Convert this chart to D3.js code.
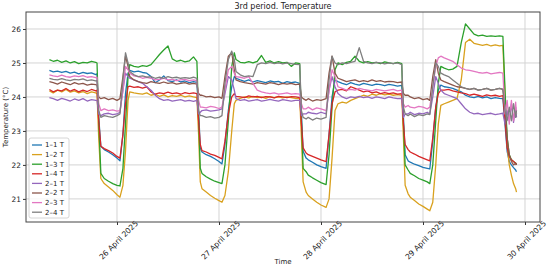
<!DOCTYPE html>
<html>
<head>
<meta charset="utf-8">
<script src="https://cdn.jsdelivr.net/npm/d3@7"></script>
<style>
  body { margin: 0; background: #fff; }
  svg text { font-family: "DejaVu Sans", sans-serif; fill: #222; }
</style>
</head>
<body>
<div id="chart"></div>
<script>
// hours since 25 April 2025 00:00
var hours = [
  8.1, 9, 10, 11, 12, 13, 14, 15, 16, 17, 18, 19, 19.3,
  19.7, 20.2, 21, 22, 23, 24, 24.7,
  25.4, 26.0, 26.6,
  27, 28, 29, 30, 31, 32, 33, 34, 35, 36, 37, 38, 39, 40, 41, 42, 42.8,
  43.2, 43.6,
  44, 45, 46, 47, 48, 48.7,
  49.4, 50.2, 51.0, 51.6,
  52, 53, 54, 55, 56, 57, 58, 59, 60, 61, 62, 63, 64, 65, 66, 67.0,
  67.4, 67.8,
  68.5, 69, 70, 71, 72, 73.2,
  73.9, 74.6, 75.3,
  76, 77, 78, 79, 80, 81, 82, 83, 84, 85, 86, 87, 88, 89, 90, 91.0,
  91.4, 91.8,
  92.5, 93, 94, 95, 96, 97, 97.6,
  98.3, 99.0, 99.6, 100.2,
  101, 102, 103, 104, 105, 106, 107, 108, 109, 110, 111, 112, 113, 114, 114.8,
  115.3, 115.8,
  116.3, 116.8, 117.3, 117.8, 118.0
];

var t11 = [
  24.78, 24.74, 24.76, 24.72, 24.75, 24.7, 24.73, 24.68, 24.72, 24.69, 24.71, 24.66, 24.68,
  23.4, 22.55, 22.45, 22.38, 22.3, 22.2, 22.12,
  22.9, 24.1, 24.7,
  24.78, 24.74, 24.76, 24.72, 24.7, 24.6, 24.42, 24.5, 24.62, 24.48, 24.45, 24.5, 24.44, 24.47, 24.42, 24.45, 24.43,
  23.6, 22.5,
  22.38, 22.3, 22.25, 22.18, 22.1, 22.03,
  22.6, 23.6, 24.3, 24.6,
  24.55, 24.5, 24.46, 24.5, 24.44, 24.48, 24.45, 24.42, 24.47, 24.44, 24.46, 24.4, 24.45, 24.42, 24.44, 24.4,
  23.5, 22.4,
  22.2, 22.15, 22.08, 22.0, 21.95, 21.9,
  22.9, 24.0, 24.5,
  24.45, 24.4, 24.36, 24.42, 24.38, 24.35, 24.4, 24.37, 24.34, 24.38, 24.36, 24.33, 24.37, 24.35, 24.32, 24.34,
  23.4, 22.3,
  22.12, 22.08, 22.02, 21.98, 21.93, 21.9, 21.88,
  22.7, 23.7, 24.2, 24.35,
  24.3, 24.28, 24.25, 24.2, 24.15, 24.05, 24.0, 23.98, 24.02, 23.97, 24.0, 23.95, 23.98, 23.96, 23.95,
  23.2, 22.4,
  22.1, 22.0, 21.92, 21.85, 21.8
];

var t12 = [
  24.18, 24.12, 24.2, 24.15, 24.22, 24.14, 24.18, 24.12, 24.16, 24.1, 24.15, 24.12, 24.1,
  22.8, 21.6, 21.45, 21.35, 21.25, 21.12, 21.05,
  21.4, 22.4, 23.9,
  24.15, 24.12, 24.1, 24.08, 24.12, 24.05, 24.08, 24.02, 24.06, 24.0, 24.04, 24.02, 24.05, 24.0, 24.03, 24.0, 23.98,
  22.9, 21.5,
  21.3, 21.2, 21.1, 21.02, 20.95, 20.9,
  21.1, 21.8, 23.0, 23.8,
  23.9, 23.96, 24.0, 23.97, 24.02, 23.98, 24.0, 23.96, 24.01, 23.98, 24.0, 23.97, 24.0, 23.98, 23.96, 23.95,
  22.8, 21.5,
  21.2, 21.1, 21.0, 20.9, 20.82, 20.75,
  21.0, 22.2, 23.6,
  23.8, 23.85, 23.82, 23.9, 23.95, 24.0, 24.05, 24.02, 24.08, 24.05, 24.1, 24.06, 24.08, 24.05, 24.07, 24.05,
  22.8, 21.4,
  21.15, 21.05, 20.95, 20.85, 20.78, 20.7, 20.65,
  20.9, 22.0, 23.2, 23.75,
  23.8, 23.85, 23.9, 23.95, 24.5, 25.6, 25.7, 25.58, 25.55, 25.52, 25.55, 25.5, 25.53, 25.5, 25.52,
  24.0, 22.6,
  22.0, 21.7, 21.45, 21.3, 21.2
];

var t13 = [
  25.1, 25.05, 25.08, 25.02, 25.06, 25.0, 25.04, 24.98, 25.02, 25.0, 25.05, 25.02, 25.0,
  23.3, 21.75, 21.6, 21.52, 21.45, 21.4, 21.38,
  21.9, 23.2, 24.6,
  24.95, 24.9, 24.88, 24.92, 24.9, 24.95, 25.1, 25.25, 25.38, 25.5, 25.12, 25.05, 25.08, 25.03, 25.06, 25.18, 25.05,
  23.4, 21.9,
  21.75, 21.65, 21.58, 21.52, 21.48, 21.45,
  22.0, 23.3, 24.9, 25.3,
  25.1, 25.02, 25.0, 25.04, 25.0, 25.05, 25.22, 25.02, 25.06, 25.0, 25.04, 25.0, 25.02, 24.9, 25.0, 24.98,
  23.3, 21.9,
  21.8, 21.7, 21.62, 21.55, 21.48, 21.42,
  22.3, 23.7, 24.8,
  25.0, 24.95, 25.02, 25.05, 25.2, 25.05, 25.0, 25.04, 25.0, 25.02, 24.98, 25.03, 25.0, 24.98, 25.02, 24.98,
  23.2, 22.0,
  21.85, 21.75, 21.68, 21.6, 21.55, 21.5, 21.45,
  22.0, 23.3, 24.4, 24.9,
  24.85, 24.8, 24.82, 24.9, 25.6, 26.15, 26.0, 25.85, 25.8, 25.82, 25.78, 25.8, 25.78, 25.8, 25.78,
  24.2, 22.8,
  22.3, 22.15, 22.1, 22.05, 22.02
];

var t14 = [
  24.22, 24.15, 24.2, 24.18, 24.25, 24.17, 24.22, 24.15, 24.2, 24.16, 24.22, 24.18, 24.2,
  23.3, 22.55, 22.48, 22.42, 22.35, 22.25, 22.2,
  22.9, 23.8, 24.3,
  24.32, 24.28, 24.3, 24.26, 24.3, 24.15, 24.08, 24.12, 24.1, 24.14, 24.1, 24.12, 24.08, 24.13, 24.1, 24.12, 24.1,
  23.3, 22.6,
  22.42, 22.38, 22.32, 22.28, 22.22, 22.18,
  22.7, 23.5, 24.0, 24.1,
  24.02, 24.0, 23.98, 24.03, 24.0, 24.02, 23.98, 24.01, 24.0, 23.97, 24.02, 24.0, 23.98, 24.01, 24.0, 23.98,
  23.2, 22.5,
  22.35, 22.3, 22.25, 22.2, 22.15, 22.1,
  22.9, 23.8, 24.15,
  24.2, 24.22, 24.18, 24.3, 24.25, 24.2, 24.15, 24.18, 24.12, 24.15, 24.1, 24.13, 24.1, 24.12, 24.08, 24.1,
  23.2, 22.6,
  22.45, 22.38, 22.32, 22.25, 22.2, 22.15, 22.12,
  22.8, 23.7, 24.1, 24.2,
  24.2, 24.22, 24.18, 24.15, 24.12, 24.1, 24.05, 24.08, 24.05, 24.02, 24.06, 24.03, 24.05, 24.02, 24.04,
  23.3, 22.5,
  22.25, 22.15, 22.1, 22.05, 22.0
];

var t21 = [
  23.98, 23.95, 23.9, 23.96, 23.92, 23.88, 23.94, 23.9, 23.95, 23.88, 23.92, 23.9, 23.9,
  23.5, 23.45, 23.5, 23.52, 23.48, 23.5, 23.55,
  24.2, 24.7, 24.6,
  24.55, 24.5, 24.45, 24.4, 24.3, 24.2, 24.05, 23.95, 23.9, 23.92, 23.88, 23.9, 23.92, 23.88, 23.9, 23.87, 23.9,
  23.5, 23.55,
  23.6, 23.62, 23.58, 23.6, 23.62, 23.65,
  24.1, 24.6, 24.5, 24.2,
  23.95, 23.9, 23.92, 23.88, 23.9, 23.92, 23.88, 23.9, 23.93, 23.9, 23.88, 23.92, 23.9, 23.88, 23.9, 23.9,
  23.45, 23.5,
  23.5, 23.55, 23.52, 23.5, 23.55, 23.5,
  24.2, 24.6, 24.3,
  24.1, 24.0, 23.95, 24.0, 23.98, 24.02, 23.98, 24.0, 23.96, 24.0, 23.98, 23.95, 24.0, 23.97, 23.95, 23.96,
  23.4, 23.5,
  23.5, 23.55, 23.48, 23.52, 23.5, 23.55, 23.5,
  24.0, 24.6, 24.4, 24.2,
  24.1, 24.05, 24.0, 23.95, 23.8, 23.65, 23.55, 23.5, 23.52, 23.48, 23.5, 23.52, 23.48, 23.5, 23.52,
  23.2, 23.6,
  23.3, 23.8, 23.25, 23.7, 23.4
];

var t22 = [
  24.45, 24.42, 24.38, 24.44, 24.4, 24.36, 24.42, 24.38, 24.4, 24.35, 24.38, 24.36, 24.35,
  24.0, 23.95, 23.98, 23.92, 23.96, 23.9, 23.95,
  24.6, 25.2, 24.9,
  24.6, 24.5, 24.45, 24.42, 24.4, 24.45, 24.42, 24.4, 24.44, 24.4, 24.42, 24.38, 24.4, 24.42, 24.38, 24.4, 24.38,
  24.1, 24.05,
  24.05, 24.0, 24.02, 23.98, 24.0, 23.96,
  24.6, 25.2, 25.3, 24.8,
  24.5, 24.45, 24.42, 24.4, 24.38, 24.42, 24.4, 24.38, 24.42, 24.4, 24.36, 24.4, 24.38, 24.4, 24.36, 24.38,
  24.0, 23.95,
  23.9, 23.95, 23.88, 23.92, 23.9, 23.95,
  24.7, 25.2, 24.7,
  24.55, 24.5, 24.45, 24.48, 24.5, 24.45, 24.48, 24.45, 24.5, 24.46, 24.48, 24.44, 24.46, 24.45, 24.42, 24.44,
  24.1, 24.05,
  24.05, 24.0, 23.95, 23.98, 23.92, 23.95, 23.9,
  24.6, 25.1, 24.7, 24.5,
  24.45, 24.4, 24.35, 24.3, 24.28, 24.25, 24.22, 24.25, 24.2, 24.22, 24.25, 24.2, 24.22, 24.25, 24.22,
  23.7, 22.8,
  22.3, 22.1, 22.0, 22.05, 22.0
];

var t23 = [
  24.65, 24.62, 24.6, 24.64, 24.6, 24.58, 24.62, 24.6, 24.63, 24.58, 24.6, 24.57, 24.58,
  23.8, 23.6, 23.65, 23.6, 23.62, 23.58, 23.6,
  24.2, 24.9, 24.8,
  24.7, 24.62, 24.6, 24.55, 24.58, 24.55, 24.5, 24.52, 24.55, 24.5, 24.52, 24.48, 24.5, 24.52, 24.48, 24.5, 24.48,
  23.9, 23.7,
  23.7, 23.68, 23.72, 23.7, 23.66, 23.7,
  24.2, 24.8, 24.9, 24.7,
  24.6, 24.58, 24.55, 24.6, 24.4, 24.2, 24.15, 24.12, 24.1, 24.12, 24.08, 24.1, 24.12, 24.08, 24.1, 24.08,
  23.8, 23.65,
  23.65, 23.7, 23.62, 23.68, 23.65, 23.6,
  24.2, 24.8, 24.6,
  24.3, 24.25, 24.2, 24.22, 24.2, 24.25, 24.22, 24.2, 24.18, 24.22, 24.2, 24.18, 24.2, 24.22, 24.18, 24.2,
  23.8, 23.7,
  23.75, 23.7, 23.68, 23.72, 23.7, 23.65, 23.7,
  24.3, 24.9, 25.15, 25.2,
  25.15, 25.1, 25.05, 24.95, 24.85, 24.8, 24.78, 24.75, 24.72, 24.7, 24.72, 24.68, 24.7, 24.72, 24.7,
  23.5, 23.9,
  23.2, 23.9, 23.3, 23.85, 23.5
];

var t24 = [
  24.55, 24.52, 24.5, 24.54, 24.5, 24.48, 24.52, 24.5, 24.53, 24.48, 24.5, 24.47, 24.48,
  23.6, 23.4, 23.45, 23.42, 23.4, 23.45, 23.5,
  24.5, 25.3, 25.0,
  24.75, 24.65, 24.6, 24.62, 24.58, 24.6, 24.55, 24.58, 24.55, 24.6, 24.56, 24.58, 24.55, 24.57, 24.55, 24.58, 24.55,
  23.6, 23.45,
  23.45, 23.4, 23.42, 23.38, 23.4, 23.45,
  24.4, 25.1, 25.35, 25.1,
  24.75, 24.65, 24.6, 24.62, 24.6, 24.95, 25.0, 24.98, 25.02, 24.98, 25.0, 24.97, 25.0, 24.98, 24.96, 24.95,
  23.6, 23.4,
  23.35, 23.4, 23.32, 23.38, 23.35, 23.4,
  24.5, 25.2, 25.0,
  24.95, 25.0, 24.98, 25.02, 25.05, 25.45, 25.05, 25.0, 24.98, 25.02, 25.0, 24.97, 25.0, 24.98, 25.0, 24.95,
  23.7, 23.5,
  23.45, 23.5, 23.42, 23.48, 23.45, 23.5, 23.48,
  24.3, 25.0, 24.9, 24.7,
  24.65, 24.6, 24.5, 24.4, 24.3, 24.25, 24.22, 24.25, 24.2, 24.22, 24.25, 24.2, 24.22, 24.25, 24.22,
  23.6, 23.3,
  23.7, 23.3, 23.8, 23.4, 23.6
];

var seriesNames = ["1\u20131 T", "1\u20132 T", "1\u20133 T", "1\u20134 T", "2\u20131 T", "2\u20132 T", "2\u20133 T", "2\u20134 T"];
var seriesValues = [t11, t12, t13, t14, t21, t22, t23, t24];
var colors = ["#1f77b4", "#d9a11e", "#2ca02c", "#d62728", "#9467bd", "#8c564b", "#e377c2", "#7f7f7f"];
var yTicks = [21, 22, 23, 24, 25, 26];
var xTickDays = [26, 27, 28, 29, 30];

function toDate(h) {
  return new Date(Date.UTC(2025, 3, 25) + h * 3600000);
}

var width = 550, height = 268;
var margin = {top: 12, right: 10, bottom: 46, left: 26};

var svg = d3.select("#chart").append("svg")
  .attr("width", width)
  .attr("height", height);

// scales (axes padded like matplotlib's 5% margins)
var x = d3.scaleUtc()
  .domain([toDate(2.59), toDate(123.53)])
  .range([margin.left, width - margin.right]);

var y = d3.scaleLinear()
  .domain([20.32, 26.5])
  .range([height - margin.bottom, margin.top]);

var tickDates = xTickDays.map(function(d) { return new Date(Date.UTC(2025, 3, d)); });

// grid
svg.append("g").selectAll("line.gy")
  .data(yTicks).enter().append("line")
  .attr("x1", margin.left).attr("x2", width - margin.right)
  .attr("y1", function(d) { return y(d); }).attr("y2", function(d) { return y(d); })
  .attr("stroke", "#d4d4d4").attr("stroke-width", 1);

svg.append("g").selectAll("line.gx")
  .data(tickDates).enter().append("line")
  .attr("x1", function(d) { return x(d); }).attr("x2", function(d) { return x(d); })
  .attr("y1", margin.top).attr("y2", height - margin.bottom)
  .attr("stroke", "#d4d4d4").attr("stroke-width", 1);

// lines
var line = d3.line()
  .x(function(d, i) { return x(toDate(hours[i])); })
  .y(function(d) { return y(d); })
  .defined(function(d, i) { return i < hours.length; });

var plot = svg.append("g");
seriesValues.forEach(function(vals, k) {
  plot.append("path")
    .datum(vals)
    .attr("fill", "none")
    .attr("stroke", colors[k])
    .attr("stroke-width", 1.3)
    .attr("stroke-linejoin", "round")
    .attr("d", line);
});

// axes
var xAxis = svg.append("g")
  .attr("transform", "translate(0," + (height - margin.bottom) + ")")
  .call(d3.axisBottom(x).tickValues(tickDates).tickSize(3).tickFormat(d3.utcFormat("%-d April %Y")));
xAxis.select(".domain").remove();
xAxis.selectAll(".tick line").attr("stroke", "#333");
xAxis.selectAll(".tick text")
  .style("font-size", "7.6px")
  .attr("text-anchor", "middle")
  .attr("dy", null)
  .attr("y", 0)
  .attr("transform", "translate(3,20) rotate(-45)");

var yAxis = svg.append("g")
  .attr("transform", "translate(" + margin.left + ",0)")
  .call(d3.axisLeft(y).tickValues(yTicks).tickSize(3).tickFormat(d3.format("d")));
yAxis.select(".domain").remove();
yAxis.selectAll(".tick line").attr("stroke", "#333");
yAxis.selectAll(".tick text").style("font-size", "7.4px").attr("x", -5);

// frame
svg.append("rect")
  .attr("x", margin.left).attr("y", margin.top)
  .attr("width", width - margin.left - margin.right)
  .attr("height", height - margin.top - margin.bottom)
  .attr("fill", "none").attr("stroke", "#444").attr("stroke-width", 1);

// title and labels
svg.append("text")
  .attr("x", (margin.left + width - margin.right) / 2).attr("y", 9)
  .attr("text-anchor", "middle").style("font-size", "8px")
  .text("3rd period. Temperature");

svg.append("text")
  .attr("x", (margin.left + width - margin.right) / 2).attr("y", 264)
  .attr("text-anchor", "middle").style("font-size", "7px")
  .text("Time");

svg.append("text")
  .attr("transform", "translate(8," + ((margin.top + height - margin.bottom) / 2) + ") rotate(-90)")
  .attr("text-anchor", "middle").style("font-size", "7px")
  .text("Temperature (\u00b0C)");

// legend
var legend = svg.append("g").attr("transform", "translate(29,138)");
legend.append("rect")
  .attr("width", 40).attr("height", 80).attr("rx", 2)
  .attr("fill", "#fff").attr("fill-opacity", 0.8)
  .attr("stroke", "#ccc").attr("stroke-width", 0.8);
seriesNames.forEach(function(name, k) {
  var ly = 7 + k * 9.6;
  legend.append("line")
    .attr("x1", 3).attr("x2", 13).attr("y1", ly).attr("y2", ly)
    .attr("stroke", colors[k]).attr("stroke-width", 1.3);
  legend.append("text")
    .attr("x", 16).attr("y", ly).attr("dy", "0.35em")
    .style("font-size", "7px")
    .text(name);
});
</script>
</body>
</html>
